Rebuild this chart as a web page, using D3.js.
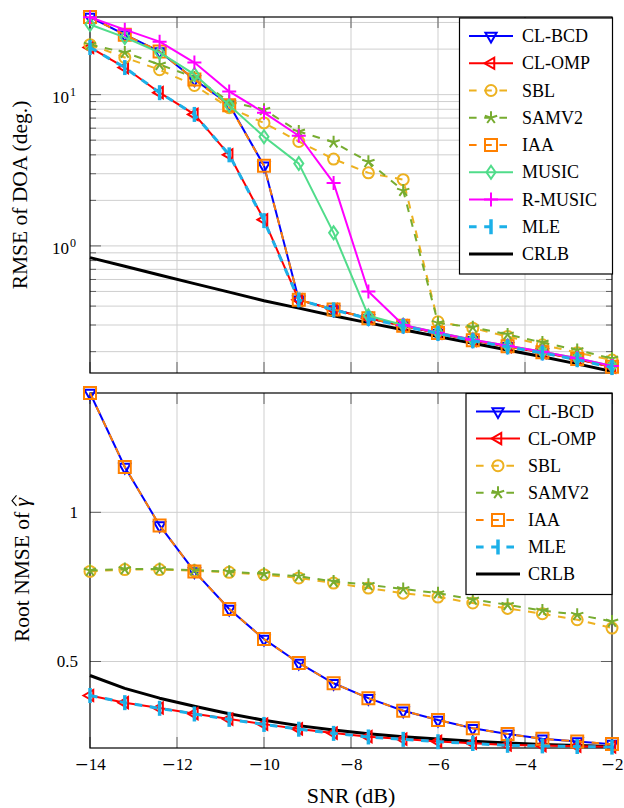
<!DOCTYPE html>
<html>
<head>
<meta charset="utf-8">
<script src="https://cdn.jsdelivr.net/npm/d3@7"></script>
<style>
  body { margin: 0; background: #ffffff; }
  svg { display: block; }
  text { font-family: "Liberation Serif", "DejaVu Serif", serif; }
</style>
</head>
<body>
<script>
'use strict';

// SNR (dB) of every simulated point
const snr = [-14, -13.2, -12.4, -11.6, -10.8, -10, -9.2, -8.4, -7.6, -6.8, -6, -5.2, -4.4, -3.6, -2.8, -2];
const xTicks = [-14, -12, -10, -8, -6, -4, -2];

// top panel: RMSE of DOA (deg.)
const clbcdDoa  = [32.6, 24.9, 19.3, 12.6, 8.6, 3.39, 0.44, 0.38, 0.333, 0.297, 0.266, 0.238, 0.217, 0.198, 0.179, 0.159];
const clompDoa  = [20.5, 15.1, 10.3, 7.4, 4.0, 1.49, 0.44, 0.38, 0.332, 0.296, 0.265, 0.237, 0.216, 0.197, 0.178, 0.158];
const sblDoa    = [21.4, 17.6, 14.6, 11.5, 8.2, 6.5, 4.9, 3.75, 3.04, 2.74, 0.315, 0.286, 0.252, 0.222, 0.197, 0.176];
const samv2Doa  = [21.4, 19.0, 15.8, 13.0, 9.0, 7.95, 5.7, 4.85, 3.6, 2.32, 0.31, 0.29, 0.26, 0.23, 0.205, 0.18];
const iaaDoa    = [32.6, 24.9, 19.3, 12.6, 8.5, 3.39, 0.44, 0.38, 0.333, 0.297, 0.266, 0.238, 0.217, 0.198, 0.179, 0.159];
const musicDoa  = [29.1, 23.9, 19.0, 13.6, 8.5, 5.27, 3.5, 1.22, 0.345, 0.3, 0.268, 0.24, 0.219, 0.2, 0.181, 0.161];
const rmusicDoa = [32.5, 26.9, 22.4, 16.3, 10.5, 7.6, 5.35, 2.61, 0.5, 0.3, 0.267, 0.24, 0.219, 0.2, 0.181, 0.161];
const mleDoa    = [20.5, 15.1, 10.3, 7.4, 4.0, 1.47, 0.44, 0.378, 0.331, 0.295, 0.264, 0.236, 0.215, 0.196, 0.177, 0.157];
const crlbDoa   = [0.837, 0.733, 0.643, 0.563, 0.495, 0.434, 0.388, 0.345, 0.31, 0.279, 0.252, 0.227, 0.205, 0.185, 0.166, 0.148];

// bottom panel: root NMSE of gamma-hat
const clbcdG = [1.40, 1.152, 0.956, 0.802, 0.676, 0.575, 0.495, 0.427, 0.377, 0.335, 0.304, 0.276, 0.257, 0.241, 0.232, 0.223];
const clompG = [0.386, 0.362, 0.344, 0.325, 0.307, 0.29, 0.274, 0.26, 0.248, 0.24, 0.232, 0.226, 0.22, 0.218, 0.216, 0.214];
const sblG   = [0.802, 0.808, 0.808, 0.804, 0.799, 0.791, 0.78, 0.763, 0.746, 0.729, 0.716, 0.696, 0.678, 0.66, 0.64, 0.612];
const samv2G = [0.805, 0.81, 0.81, 0.806, 0.801, 0.794, 0.786, 0.768, 0.757, 0.743, 0.729, 0.708, 0.69, 0.671, 0.657, 0.634];
const iaaG   = [1.40, 1.152, 0.956, 0.802, 0.676, 0.575, 0.495, 0.427, 0.377, 0.335, 0.304, 0.276, 0.257, 0.241, 0.232, 0.223];
const mleG   = [0.386, 0.362, 0.343, 0.324, 0.306, 0.289, 0.273, 0.259, 0.247, 0.239, 0.231, 0.225, 0.219, 0.217, 0.215, 0.213];
const crlbG  = [0.453, 0.41, 0.377, 0.35, 0.325, 0.303, 0.285, 0.27, 0.258, 0.248, 0.24, 0.233, 0.227, 0.222, 0.218, 0.215];

(function() {

  let svgContainer = "";
  let x = "";
  const DASH = "7.6,7.6";

  // marker shapes, centred on 0,0
  const star = d3.range(5).map((k) => {
    const a = (-90 + k * 72) * Math.PI / 180;
    return "M0,0L" + (6.5 * Math.cos(a)).toFixed(2) + "," + (6.5 * Math.sin(a)).toFixed(2);
  }).join("");
  const markers = {
    tridown: "M0,6.5L-5.6,-3.25L5.6,-3.25Z",
    trileft: "M-6.5,0L3.25,-5.6L3.25,5.6Z",
    circle: "M5.5,0A5.5,5.5 0 1,1 -5.5,0A5.5,5.5 0 1,1 5.5,0Z",
    star: star,
    square: "M-6,-6H6V6H-6Z",
    diamond: "M0,-6.5L4.5,0L0,6.5L-4.5,0Z",
    plus: "M-7,0H7M0,-7V7",
    bar: "M0,-7.5V7.5"
  };

  window.onload = function() {
    svgContainer = d3.select('body')
      .append('svg')
      .attr("width", 624)
      .attr("height", 808);

    x = d3.scaleLinear().domain([-14, -2]).range([90, 612]);

    // top panel, log scale
    const yTop = d3.scaleLog().domain([0.1445, 32.6]).range([373, 17]);
    drawPanel({
      y: yTop, top: 17, bottom: 373,
      major: [1, 10],
      minor: [0.2, 0.3, 0.4, 0.5, 0.6, 0.7, 0.8, 0.9, 2, 3, 4, 5, 6, 7, 8, 9, 20, 30],
      series: [
        {name: "CRLB", v: crlbDoa, color: "#000000", w: 3, dash: null, mark: null},
        {name: "CL-BCD", v: clbcdDoa, color: "#0000ff", w: 2, dash: null, mark: "tridown"},
        {name: "CL-OMP", v: clompDoa, color: "#ff0000", w: 2, dash: null, mark: "trileft"},
        {name: "SBL", v: sblDoa, color: "#EDB120", w: 2, dash: DASH, mark: "circle"},
        {name: "SAMV2", v: samv2Doa, color: "#77AC30", w: 2, dash: DASH, mark: "star"},
        {name: "IAA", v: iaaDoa, color: "#ff8000", w: 2, dash: DASH, mark: "square"},
        {name: "MUSIC", v: musicDoa, color: "#50DC8A", w: 2, dash: null, mark: "diamond"},
        {name: "R-MUSIC", v: rmusicDoa, color: "#ff00ff", w: 2, dash: null, mark: "plus"},
        {name: "MLE", v: mleDoa, color: "#1CB0E8", w: 3, dash: DASH, mark: "bar"}
      ],
      legendOrder: ["CL-BCD", "CL-OMP", "SBL", "SAMV2", "IAA", "MUSIC", "R-MUSIC", "MLE", "CRLB"],
      legend: {x: 459.5, y: 18, w: 153, h: 256, row0: 36, step: 27.25, l0: 469, l1: 513, tx: 522}
    });
    // log tick labels 10^0 and 10^1
    [0, 1].forEach((p) => {
      svgContainer.append("text")
        .attr("x", 69)
        .attr("y", yTop(Math.pow(10, p)) + 8)
        .style("text-anchor", "end")
        .style("font-size", "17px")
        .text("10");
      svgContainer.append("text")
        .attr("x", 70)
        .attr("y", yTop(Math.pow(10, p)) + 1)
        .style("font-size", "12px")
        .text(p);
    });

    // bottom panel, linear scale
    const yBot = d3.scaleLinear().domain([0.21, 1.40]).range([748, 393]);
    drawPanel({
      y: yBot, top: 393, bottom: 748,
      major: [0.5, 1],
      minor: [],
      series: [
        {name: "CRLB", v: crlbG, color: "#000000", w: 3, dash: null, mark: null},
        {name: "CL-BCD", v: clbcdG, color: "#0000ff", w: 2, dash: null, mark: "tridown"},
        {name: "CL-OMP", v: clompG, color: "#ff0000", w: 2, dash: null, mark: "trileft"},
        {name: "SBL", v: sblG, color: "#EDB120", w: 2, dash: DASH, mark: "circle"},
        {name: "SAMV2", v: samv2G, color: "#77AC30", w: 2, dash: DASH, mark: "star"},
        {name: "IAA", v: iaaG, color: "#ff8000", w: 2, dash: DASH, mark: "square"},
        {name: "MLE", v: mleG, color: "#1CB0E8", w: 3, dash: DASH, mark: "bar"}
      ],
      legendOrder: ["CL-BCD", "CL-OMP", "SBL", "SAMV2", "IAA", "MLE", "CRLB"],
      legend: {x: 466, y: 393.5, w: 146, h: 201, row0: 411.5, step: 27.1, l0: 476, l1: 520, tx: 528}
    });
    [0.5, 1].forEach((v) => {
      svgContainer.append("text")
        .attr("x", 78)
        .attr("y", yBot(v) + 6)
        .style("text-anchor", "end")
        .style("font-size", "17px")
        .text(v);
    });

    // x tick labels under the bottom panel
    xTicks.forEach((v) => {
      const t = svgContainer.append("text")
        .attr("x", x(v))
        .attr("y", 770)
        .style("text-anchor", "middle")
        .style("font-size", "17px");
      t.append("tspan").style("font-family", "'DejaVu Serif'").text("\u2212");
      t.append("tspan").text(Math.abs(v));
    });

    addLabels();
  }

  // drawPanel draws grid, ticks, frame, curves and legend of one axis box
  function drawPanel(p) {
    const g = svgContainer.append("g");
    const y = p.y;

    // grid
    g.selectAll(".vgrid").data(xTicks.slice(1, -1)).enter().append("line")
      .attr("x1", (d) => x(d)).attr("x2", (d) => x(d))
      .attr("y1", p.top).attr("y2", p.bottom)
      .style("stroke", "#cfcfcf").style("stroke-width", "1px");
    g.selectAll(".hgrid").data(p.major.concat(p.minor)).enter().append("line")
      .attr("x1", 90).attr("x2", 612)
      .attr("y1", (d) => y(d)).attr("y2", (d) => y(d))
      .style("stroke", "#cfcfcf").style("stroke-width", "1px");

    // ticks on all four sides
    xTicks.forEach((v) => {
      [[p.bottom, p.bottom - 11], [p.top, p.top + 11]].forEach((s) => {
        g.append("line").attr("x1", x(v)).attr("x2", x(v)).attr("y1", s[0]).attr("y2", s[1])
          .style("stroke", "#606060").style("stroke-width", "1px");
      });
    });
    p.major.concat(p.minor).forEach((v) => {
      const len = p.major.indexOf(v) >= 0 ? 11 : 6;
      [[90, 90 + len], [612, 612 - len]].forEach((s) => {
        g.append("line").attr("x1", s[0]).attr("x2", s[1]).attr("y1", y(v)).attr("y2", y(v))
          .style("stroke", "#606060").style("stroke-width", "1px");
      });
    });

    // frame
    g.append("rect")
      .attr("x", 90).attr("y", p.top)
      .attr("width", 522).attr("height", p.bottom - p.top)
      .style("fill", "none").style("stroke", "#000").style("stroke-width", "1.2px");

    // curves, line first then its marks
    const line = d3.line().x((d, i) => x(snr[i])).y((d) => y(d));
    p.series.forEach((s) => {
      g.append("path")
        .attr("d", line(s.v))
        .style("fill", "none")
        .style("stroke", s.color)
        .style("stroke-width", s.w + "px")
        .style("stroke-dasharray", s.dash ? s.dash : null)
        .style("stroke-linejoin", "round");
      if (s.mark) {
        g.selectAll(null).data(s.v).enter().append("path")
          .attr("d", markers[s.mark])
          .attr("transform", (d, i) => "translate(" + x(snr[i]) + "," + y(d) + ")")
          .style("fill", "none")
          .style("stroke", s.color)
          .style("stroke-width", s.mark === "bar" ? "3.5px" : "2px");
      }
    });

    addLegend(p);
  }

  // addLegend puts the boxed legend in the top right corner of a panel
  function addLegend(p) {
    const L = p.legend;
    const legend = svgContainer.append("g").attr("class", "legend");
    legend.append("rect")
      .attr("x", L.x).attr("y", L.y)
      .attr("width", L.w).attr("height", L.h)
      .style("fill", "#fff").style("stroke", "#000").style("stroke-width", "1.2px");

    p.legendOrder.forEach((name, k) => {
      const s = p.series.find((d) => d.name === name);
      const yy = L.row0 + k * L.step;
      legend.append("line")
        .attr("x1", L.l0).attr("x2", L.l1).attr("y1", yy).attr("y2", yy)
        .style("stroke", s.color)
        .style("stroke-width", s.w + "px")
        .style("stroke-dasharray", s.dash ? s.dash : null);
      if (s.mark) {
        legend.append("path")
          .attr("d", markers[s.mark])
          .attr("transform", "translate(" + ((L.l0 + L.l1) / 2) + "," + yy + ")")
          .style("fill", "none")
          .style("stroke", s.color)
          .style("stroke-width", s.mark === "bar" ? "3.5px" : "2px");
      }
      legend.append("text")
        .attr("x", L.tx).attr("y", yy + 6)
        .style("font-size", "18px")
        .text(name);
    });
  }

  // addLabels adds the axis titles
  function addLabels() {
    svgContainer.append("text")
      .attr("x", 351).attr("y", 803)
      .style("text-anchor", "middle")
      .style("font-size", "22px")
      .text("SNR (dB)");

    svgContainer.append("text")
      .attr("transform", "translate(27,195) rotate(-90)")
      .style("text-anchor", "middle")
      .style("font-size", "21.5px")
      .text("RMSE of DOA (deg.)");

    // bottom label, hat drawn over the gamma by hand
    const prefix = "Root NMSE of ";
    const grp = svgContainer.append("g").attr("transform", "translate(29,570) rotate(-90)");
    const t = grp.append("text")
      .style("font-size", "21.5px");
    t.append("tspan").text(prefix);
    t.append("tspan").style("font-style", "italic").text("\u03b3");
    const node = t.node();
    const total = node.getComputedTextLength();
    t.attr("x", -total / 2);
    let gx = -total / 2 + total - 10;
    let gw = 10;
    try {
      gx = -total / 2 + node.getSubStringLength(0, prefix.length);
      gw = node.getSubStringLength(prefix.length, 1);
    } catch (e) {}
    grp.append("path")
      .attr("d", "M" + (gx + 0.5) + ",-12.5L" + (gx + gw / 2 + 1.5) + ",-17L" + (gx + gw + 2.5) + ",-12.5")
      .style("fill", "none").style("stroke", "#000").style("stroke-width", "1.1px");
  }
})();
</script>
</body>
</html>
